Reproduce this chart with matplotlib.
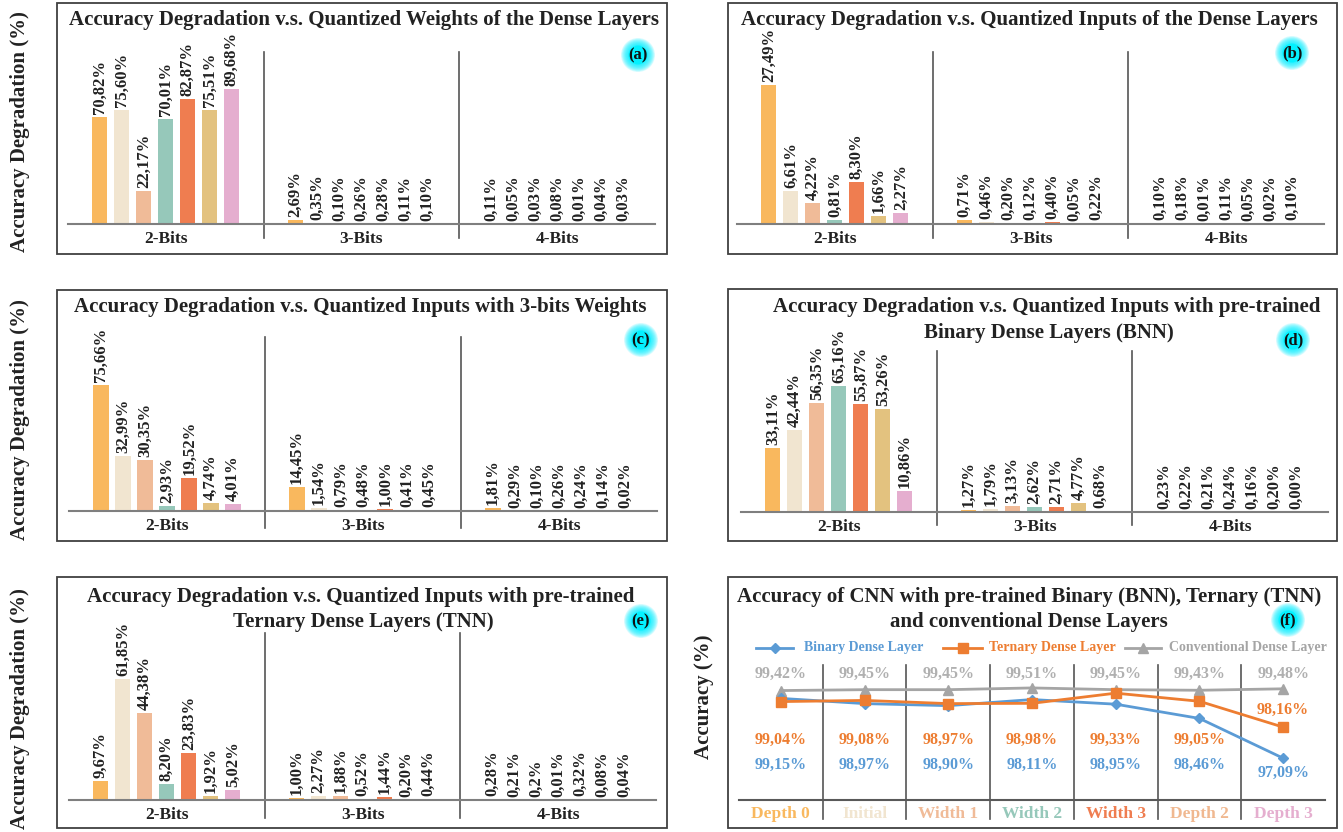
import matplotlib
matplotlib.use("Agg")
import matplotlib.pyplot as plt
import matplotlib.transforms as mtrans
from matplotlib.patches import Rectangle, Circle
from matplotlib.lines import Line2D
import numpy as np

plt.rcParams['font.family'] = ['Liberation Serif', 'DejaVu Serif']
plt.rcParams['font.weight'] = 'bold'

# ---------------- data ----------------
groups = ["2-Bits", "3-Bits", "4-Bits"]

a_2bits = [70.82, 75.60, 22.17, 70.01, 82.87, 75.51, 89.68]
a_3bits = [2.69, 0.35, 0.10, 0.26, 0.28, 0.11, 0.10]
a_4bits = [0.11, 0.05, 0.03, 0.08, 0.01, 0.04, 0.03]

b_2bits = [27.49, 6.61, 4.22, 0.81, 8.30, 1.66, 2.27]
b_3bits = [0.71, 0.46, 0.20, 0.12, 0.40, 0.05, 0.22]
b_4bits = [0.10, 0.18, 0.01, 0.11, 0.05, 0.02, 0.10]

c_2bits = [75.66, 32.99, 30.35, 2.93, 19.52, 4.74, 4.01]
c_3bits = [14.45, 1.54, 0.79, 0.48, 1.00, 0.41, 0.45]
c_4bits = [1.81, 0.29, 0.10, 0.26, 0.24, 0.14, 0.02]

d_2bits = [33.11, 42.44, 56.35, 65.16, 55.87, 53.26, 10.86]
d_3bits = [1.27, 1.79, 3.13, 2.62, 2.71, 4.77, 0.68]
d_4bits = [0.23, 0.22, 0.21, 0.24, 0.16, 0.20, 0.00]

e_2bits = [9.67, 61.85, 44.38, 8.20, 23.83, 1.92, 5.02]
e_3bits = [1.00, 2.27, 1.88, 0.52, 1.44, 0.20, 0.44]
e_4bits = [0.28, 0.21, 0.2, 0.01, 0.32, 0.08, 0.04]
e_4bits_labels = ["0,28%", "0,21%", "0,2%", "0,01%", "0,32%", "0,08%", "0,04%"]

f_categories = ["Depth 0", "Initial", "Width 1", "Width 2", "Width 3", "Depth 2", "Depth 3"]
f_conventional = [99.42, 99.45, 99.45, 99.51, 99.45, 99.43, 99.48]
f_ternary = [99.04, 99.08, 98.97, 98.98, 99.33, 99.05, 98.16]
f_binary = [99.15, 98.97, 98.90, 99.11, 98.95, 98.46, 97.09]
f_binary_labels = ["99,15%", "98,97%", "98,90%", "98,11%", "98,95%", "98,46%", "97,09%"]

# ---------------- style ----------------
bar_colors = ['#F9B85E', '#F1E5D0', '#F0BB98', '#96C8BA', '#EF7D50', '#E3C27F', '#E5AECF']
f_cat_colors = ['#F9B85E', '#F1E5D0', '#F0BB98', '#96C8BA', '#EF7D50', '#F0B890', '#E5AECF']
TXT = '#222222'
FRAME = '#404040'

W, H = 1343, 832
fig = plt.figure(figsize=(W / 100, H / 100), dpi=100)


def px_axes(x0, y0, x1, y1):
    ax = fig.add_axes([x0 / W, 1 - y1 / H, (x1 - x0) / W, (y1 - y0) / H])
    ax.patch.set_visible(False)
    return ax


def fmt(v):
    return f"{v:.2f}".replace('.', ',') + '%'


def bar_panel(axbox, maxbar_px, sep_below, data, labels=None):
    x0, y0, x1, y1 = axbox
    hpx = y1 - y0
    ax = px_axes(*axbox)
    allv = [v for g in data for v in g]
    ax.set_xlim(-0.5, 2.5)
    ax.set_ylim(0, max(allv) * hpx / maxbar_px)
    slot, bw = 0.1124, 0.078
    for g, vals in enumerate(data):
        for i, v in enumerate(vals):
            x = g + (i - 3) * slot
            ax.bar(x, v, width=bw, color=bar_colors[i], linewidth=0)
            lab = fmt(v)
            if labels is not None and labels[g] is not None:
                lab = labels[g][i]
            ax.annotate(lab, (x, v), xytext=(0, 3), textcoords='offset pixels',
                        rotation=90, ha='center', va='bottom', fontsize=12,
                        fontweight='bold', color=TXT)
        ax.annotate(groups[g], (g, 0), xytext=(0, -15), textcoords='offset pixels',
                    ha='center', va='center', fontsize=12.5, fontweight='bold', color=TXT)
    tr = mtrans.blended_transform_factory(ax.transData, ax.transAxes)
    for s in (0.5, 1.5):
        ax.plot([s, s], [-sep_below / hpx, 1], transform=tr, color='#555555', lw=1.2,
                clip_on=False)
    for sp in ('top', 'left', 'right'):
        ax.spines[sp].set_visible(False)
    ax.spines['bottom'].set_color('#7F7F7F')
    ax.spines['bottom'].set_linewidth(1.5)
    ax.set_xticks([])
    ax.set_yticks([])
    return ax


bar_panel((68, 52, 655, 224), 135, 14, [a_2bits, a_3bits, a_4bits])
bar_panel((737, 52, 1324, 224), 139, 14, [b_2bits, b_3bits, b_4bits])
bar_panel((69, 337, 657, 511), 126.3, 17, [c_2bits, c_3bits, c_4bits])
bar_panel((741, 351, 1328, 512), 126, 13, [d_2bits, d_3bits, d_4bits])
bar_panel((69, 633, 656, 800), 121, 18, [e_2bits, e_3bits, e_4bits],
          labels=[None, None, e_4bits_labels])

# ---------------- panel (f) ----------------
fx0, fy0, fx1, fy1 = 739, 665, 1325, 800
axf = px_axes(fx0, fy0, fx1, fy1)
fh = fy1 - fy0
xf = np.arange(len(f_categories))
axf.set_xlim(-0.5, len(f_categories) - 0.5)
axf.set_ylim(95.65, 100.3)
c_gray, c_orange, c_blue = '#A5A5A5', '#ED7D31', '#5B9BD5'
axf.plot(xf, f_conventional, color=c_gray, lw=2, marker='^', ms=7, zorder=3)
axf.plot(xf, f_binary, color=c_blue, lw=2, marker='D', ms=5.5, zorder=3)
axf.plot(xf, f_ternary, color=c_orange, lw=2, marker='s', ms=6.5, zorder=4)
trf = mtrans.blended_transform_factory(axf.transData, axf.transAxes)
n = len(f_categories)
for i in range(n):
    axf.text(xf[i], (fy1 - 674) / fh, fmt(f_conventional[i]), transform=trf,
             ha='center', va='center', fontsize=11.5, fontweight='bold', color='#B0B0B0')
    oy = (fy1 - 740) / fh if i < n - 1 else (fy1 - 710) / fh
    axf.text(xf[i], oy, fmt(f_ternary[i]), transform=trf, ha='center', va='center',
             fontsize=11.5, fontweight='bold', color=c_orange)
    by = (fy1 - 765) / fh if i < n - 1 else (fy1 - 773) / fh
    axf.text(xf[i], by, f_binary_labels[i], transform=trf, ha='center', va='center',
             fontsize=11.5, fontweight='bold', color=c_blue)
    axf.text(xf[i], -14 / fh, f_categories[i], transform=trf, ha='center', va='center',
             fontsize=12.5, fontweight='bold', color=f_cat_colors[i])
for s in np.arange(0.5, n - 1, 1.0):
    axf.plot([s, s], [-19 / fh, 1], transform=trf, color='#555555', lw=1.2, clip_on=False)
for sp in ('top', 'left', 'right'):
    axf.spines[sp].set_visible(False)
axf.spines['bottom'].set_color('#595959')
axf.spines['bottom'].set_linewidth(1.5)
axf.set_xticks([])
axf.set_yticks([])

# ---------------- overlay (pixel coordinates) ----------------
ov = fig.add_axes([0, 0, 1, 1])
ov.set_xlim(0, W)
ov.set_ylim(H, 0)
ov.axis('off')
ov.patch.set_visible(False)

frames = [(57, 3, 667, 254), (728, 3, 1337, 254), (57, 290, 667, 541),
          (728, 289, 1337, 541), (57, 577, 667, 828), (728, 577, 1337, 828)]
for (x0, y0, x1, y1) in frames:
    ov.add_patch(Rectangle((x0, y0), x1 - x0, y1 - y0, fill=False, ec=FRAME, lw=1.3))

titles = [
    (364, 20, "Accuracy Degradation v.s. Quantized Weights of the Dense Layers"),
    (1029, 20, "Accuracy Degradation v.s. Quantized Inputs of the Dense Layers"),
    (360, 307, "Accuracy Degradation v.s. Quantized Inputs with 3-bits Weights"),
    (1047, 307, "Accuracy Degradation v.s. Quantized Inputs with pre-trained"),
    (1049, 333, "Binary Dense Layers (BNN)"),
    (361, 597, "Accuracy Degradation v.s. Quantized Inputs with pre-trained"),
    (363, 622, "Ternary Dense Layers (TNN)"),
    (1029, 597, "Accuracy of CNN with pre-trained Binary (BNN), Ternary (TNN)"),
    (1029, 622, "and conventional Dense Layers"),
]
for x, y, t in titles:
    ov.text(x, y, t, ha='center', va='center', fontsize=15, fontweight='bold', color=TXT)

badges = [(638, 55, "(a)"), (1292, 53, "(b)"), (641, 340, "(c)"),
          (1293, 340, "(d)"), (641, 621, "(e)"), (1288, 620, "(f)")]
for x, y, t in badges:
    for k in range(10):
        ov.add_patch(Circle((x, y), 17 - k * 0.8, color='#00F0FF', alpha=0.15, lw=0))
    ov.add_patch(Circle((x, y), 9.5, color='#00F2FF', alpha=0.9, lw=0))
    ov.text(x, y, t, ha='center', va='center', fontsize=12, fontweight='bold', color='#111111')

for y in (132, 420, 709):
    ov.text(20, y, "Accuracy Degradation (%)", rotation=90, ha='center', va='center',
            fontsize=15, fontweight='bold', color=TXT)
ov.text(704, 697, "Accuracy (%)", rotation=90, ha='center', va='center',
        fontsize=15, fontweight='bold', color=TXT)

legend_items = [(756, 793, 804, c_blue, 'D', 5, "Binary Dense Layer"),
                (943, 982, 989, c_orange, 's', 6.5, "Ternary Dense Layer"),
                (1125, 1161, 1169, c_gray, '^', 7, "Conventional Dense Layer")]
for lx0, lx1, tx, col, mk, ms, lab in legend_items:
    ov.add_line(Line2D([lx0, lx1], [648, 648], color=col, lw=2))
    ov.add_line(Line2D([(lx0 + lx1) / 2], [648], color=col, marker=mk, ms=ms, lw=0))
    ov.text(tx, 648, lab, ha='left', va='center', fontsize=10, fontweight='bold', color=col)

fig.savefig("out.png", dpi=100)
